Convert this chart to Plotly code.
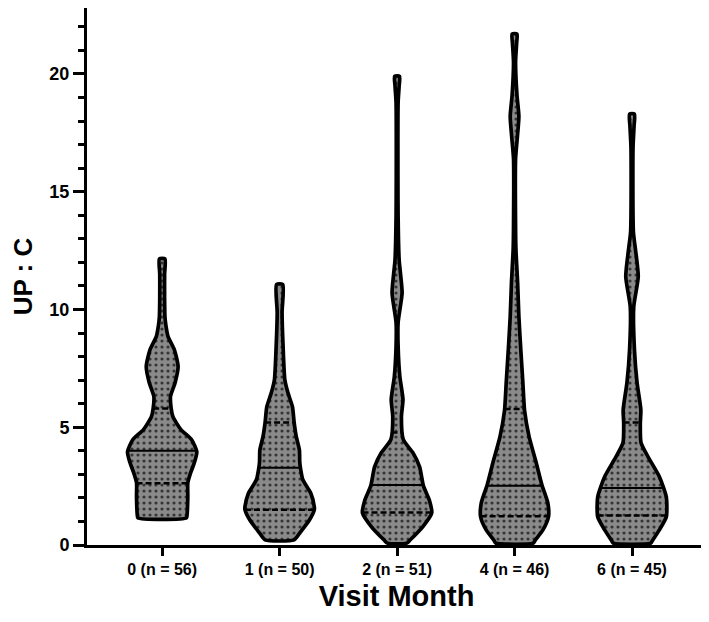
import numpy as np
import plotly.graph_objects as go

categories = ["0 (n = 56)", "1 (n = 50)", "2 (n = 51)", "4 (n = 46)", "6 (n = 45)"]

# violin outline profiles: value levels and relative half-widths (1 = widest)
v0_y = [1.15, 1.3, 2.04, 2.64, 3.06, 3.5, 3.96, 4.47, 4.9, 5.45, 5.8, 6.3, 6.9, 7.57, 8.3, 8.85, 9.3, 9.7, 10.5, 11.5, 12.15]
v0_w = [0.70, 0.72, 0.74, 0.74, 0.82, 0.93, 1.0, 0.85, 0.54, 0.31, 0.26, 0.24, 0.375, 0.46, 0.35, 0.17, 0.11, 0.08, 0.07, 0.07, 0.08]

v1_y = [0.22, 0.51, 1.06, 1.49, 1.63, 2.2, 2.77, 3.28, 3.53, 4.04, 4.6, 5.19, 5.87, 6.46, 7.02, 8.43, 9.87, 11.06]
v1_w = [0.42, 0.58, 0.86, 1.0, 1.0, 0.90, 0.67, 0.60, 0.58, 0.57, 0.48, 0.42, 0.37, 0.24, 0.15, 0.10, 0.07, 0.09]

v2_y = [0.08, 0.21, 0.77, 1.36, 1.91, 2.51, 3.32, 3.91, 4.47, 5.45, 6.17, 7.15, 8.43, 9.45, 10.7, 11.5, 12.1, 13.9, 18.8, 19.5, 19.9]
v2_w = [0.28, 0.375, 0.74, 1.0, 0.93, 0.76, 0.65, 0.46, 0.18, 0.125, 0.17, 0.08, 0.03, 0.03, 0.145, 0.10, 0.06, 0.03, 0.03, 0.06, 0.07]

v4_y = [0.08, 0.21, 0.64, 1.2, 1.79, 2.55, 3.49, 4.6, 5.7, 6.9, 8.3, 9.7, 11.1, 12.55, 13.5, 16.4, 17.3, 18.2, 19.1, 20.5, 21.3, 21.7]
v4_w = [0.54, 0.60, 0.82, 0.98, 0.96, 0.79, 0.625, 0.42, 0.29, 0.24, 0.18, 0.125, 0.09, 0.04, 0.03, 0.03, 0.08, 0.125, 0.07, 0.03, 0.06, 0.07]

v6_y = [0.08, 0.21, 0.64, 1.2, 2.04, 2.9, 3.75, 4.34, 5.15, 5.74, 6.9, 8.3, 10.1, 11.4, 12.55, 13.3, 16.9, 17.8, 18.3]
v6_w = [0.54, 0.60, 0.79, 0.99, 0.99, 0.79, 0.46, 0.26, 0.24, 0.255, 0.145, 0.07, 0.05, 0.18, 0.10, 0.04, 0.03, 0.06, 0.07]

medians = [4.0, 3.28, 2.55, 2.52, 2.42]
q1 = [2.62, 1.5, 1.38, 1.22, 1.25]
q3 = [5.8, 5.2, 4.78, 5.77, 5.2]

profiles = [(v0_y, v0_w), (v1_y, v1_w), (v2_y, v2_w), (v4_y, v4_w), (v6_y, v6_w)]

MAXHW = 0.295  # widest half-width in category units
FONT = "Liberation Sans, Arial, sans-serif"

fig = go.Figure()

for i, (ys, ws) in enumerate(profiles):
    ys = np.array(ys)
    ws = np.array(ws) * MAXHW
    x_path = np.concatenate([i + ws, (i - ws)[::-1], [i + ws[0]]])
    y_path = np.concatenate([ys, ys[::-1], [ys[0]]])
    fig.add_trace(go.Scatter(
        x=x_path, y=y_path, mode="lines", fill="toself",
        line=dict(color="black", width=3.7, shape="spline", smoothing=0.6),
        fillcolor="#8a8a8a",
        fillpattern=dict(shape=".", size=6, solidity=0.22, fgcolor="#353535",
                         bgcolor="#8a8a8a", fillmode="replace"),
        hoverinfo="skip", showlegend=False,
    ))
    for val, dash, lw in [(medians[i], "solid", 2), (q1[i], "6px,3px", 2.5), (q3[i], "6px,3px", 2.5)]:
        hw = float(np.interp(val, ys, ws))
        fig.add_trace(go.Scatter(
            x=[i - hw, i + hw], y=[val, val], mode="lines",
            line=dict(color="black", width=lw, dash=dash),
            hoverinfo="skip", showlegend=False,
        ))

fig.update_layout(
    width=701, height=614,
    margin=dict(l=79, r=3, t=0, b=77),
    paper_bgcolor="white", plot_bgcolor="white",
    font=dict(family=FONT, color="black"),
    xaxis=dict(
        range=[-0.64, 4.63], tickmode="array", tickvals=list(range(len(categories))),
        ticktext=categories, showgrid=False, zeroline=False,
        showline=True, linecolor="black", linewidth=3,
        ticks="outside", ticklen=8, tickwidth=2.5, tickcolor="black",
        tickfont=dict(family=FONT, size=16, color="black", weight="bold"),
        title=dict(text="Visit Month", font=dict(family=FONT, size=29, color="black", weight="bold"), standoff=9),
    ),
    yaxis=dict(
        range=[0, 22.8], tickmode="linear", tick0=0, dtick=5,
        showgrid=False, zeroline=False,
        showline=True, linecolor="black", linewidth=3,
        ticks="outside", ticklen=11, tickwidth=2.5, tickcolor="black",
        tickfont=dict(family=FONT, size=18, color="black", weight="bold"),
        minor=dict(dtick=1, ticks="outside", ticklen=6, tickwidth=2.5, tickcolor="black", showgrid=False),
        title=dict(text="UP : C", font=dict(family=FONT, size=26, color="black", weight="bold"), standoff=12),
    ),
)

fig.write_html("out.html")
